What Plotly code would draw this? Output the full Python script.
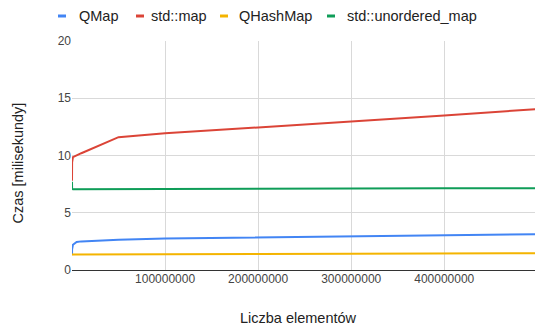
import plotly.graph_objects as go

x_vals = [1000, 10000, 100000, 1000000, 5000000, 10000000, 50000000,
          100000000, 200000000, 300000000, 400000000, 500000000]
qmap = [1.3, 1.5, 1.8, 2.2, 2.45, 2.5, 2.65, 2.75, 2.85, 2.95, 3.03, 3.12]
std_map = [7.8, 8.6, 9.4, 9.85, 10.0, 10.2, 11.6, 11.95, 12.45, 12.95, 13.5, 14.05]
qhash = [1.4, 1.37, 1.35, 1.35, 1.35, 1.35, 1.36, 1.38, 1.4, 1.42, 1.44, 1.47]
std_unordered = [7.7, 7.3, 7.1, 7.05, 7.05, 7.05, 7.05, 7.07, 7.09, 7.11, 7.13, 7.15]

series_names = ["QMap", "std::map", "QHashMap", "std::unordered_map"]
series_values = [qmap, std_map, qhash, std_unordered]
series_colors = ["#4285F4", "#DB4437", "#F4B400", "#0F9D58"]

x_ticks = [100000000, 200000000, 300000000, 400000000]
y_ticks = [0, 5, 10, 15, 20]
x_title = "Liczba elementów"
y_title = "Czas [milisekundy]"

W, H = 535, 327
ML, MR, MT, MB = 72, 0, 41, 57
PW, PH = W - ML - MR, H - MT - MB


def px_x(p):
    return (p - ML) / PW


def px_y(p):
    return (H - MB - p) / PH


fig = go.Figure()
for name, ys, color in zip(series_names, series_values, series_colors):
    fig.add_trace(go.Scatter(x=x_vals, y=ys, name=name, mode="lines",
                             line=dict(color=color, width=2), showlegend=False))

font = "Liberation Sans, Arial, sans-serif"

# custom legend (short thick markers like the reference)
legend_marker_px = [58, 136, 220, 327]
legend_text_px = [77, 149, 237, 345]
legend_y_px = 16
ly = px_y(legend_y_px)
shapes = []
annotations = []
for name, color, mx, tx in zip(series_names, series_colors, legend_marker_px, legend_text_px):
    shapes.append(dict(type="rect", xref="paper", yref="paper",
                       x0=px_x(mx), x1=px_x(mx + 8), y0=ly - 1.5 / PH, y1=ly + 1.5 / PH,
                       fillcolor=color, line=dict(width=0)))
    annotations.append(dict(text=name, xref="paper", yref="paper",
                            x=px_x(tx), y=ly, xanchor="left", yanchor="middle",
                            showarrow=False, font=dict(size=14.5, color="#222222")))

annotations.append(dict(text=x_title, xref="paper", yref="paper",
                        x=px_x(298), y=px_y(318), xanchor="center", yanchor="middle",
                        showarrow=False, font=dict(size=14.5, color="#222222")))
annotations.append(dict(text=y_title, xref="paper", yref="paper", textangle=-90,
                        x=px_x(17.5), y=px_y(163), xanchor="center", yanchor="middle",
                        showarrow=False, font=dict(size=14.5, color="#222222")))

fig.update_layout(
    width=W, height=H,
    margin=dict(l=ML, r=MR, t=MT, b=MB),
    paper_bgcolor="white", plot_bgcolor="white",
    font=dict(family=font, color="#222222"),
    showlegend=False,
    shapes=shapes, annotations=annotations,
    xaxis=dict(range=[0, 497500000], tickvals=x_ticks,
               ticktext=[str(v) for v in x_ticks],
               showgrid=True, gridcolor="#d9d9d9", gridwidth=1,
               zeroline=False, showline=False, ticks="", automargin=False,
               tickfont=dict(size=12, color="#444444")),
    yaxis=dict(range=[0, 20], tickvals=y_ticks,
               showgrid=True, gridcolor="#d9d9d9", gridwidth=1,
               zeroline=True, zerolinecolor="#333333", zerolinewidth=1,
               showline=False, ticks="", automargin=False,
               tickfont=dict(size=12, color="#444444")),
)
fig.write_html("out.html", config={"displayModeBar": False},
               post_script="document.body.style.margin='0';")
